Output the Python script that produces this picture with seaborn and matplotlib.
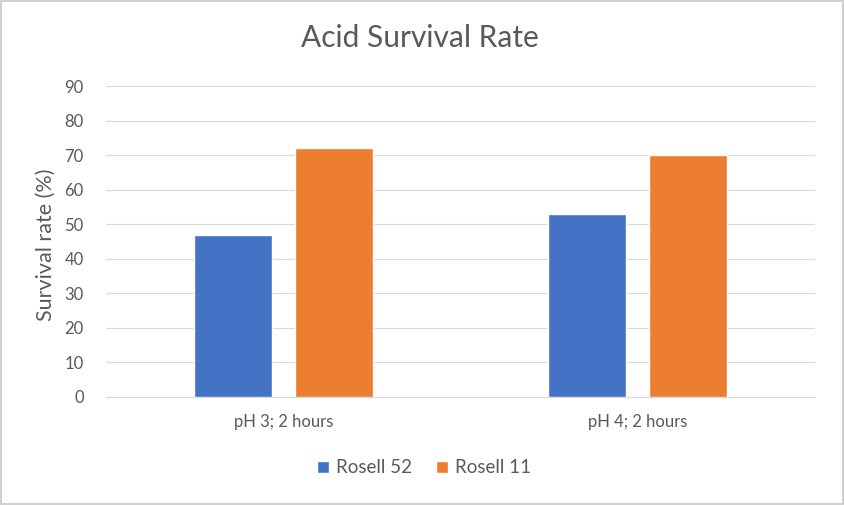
import pandas as pd
import matplotlib.pyplot as plt
import seaborn as sns

conditions = ["pH 3; 2 hours", "pH 4; 2 hours"]
strains = ["Rosell 52", "Rosell 11"]
rosell_52 = [47, 53]
rosell_11 = [72, 70]

df = pd.DataFrame({
    "condition": conditions * 2,
    "strain": [strains[0]] * 2 + [strains[1]] * 2,
    "rate": rosell_52 + rosell_11,
})

sns.set_style("white")
plt.rcParams['font.family'] = ['Lato', 'DejaVu Sans']
text_col = '#595959'

fig = plt.figure(figsize=(8.44, 5.05), dpi=100, edgecolor='#d0d0d0', linewidth=1.5)
ax = fig.add_axes([0.1256, 0.2139, 0.840, 0.6158])

sns.barplot(data=df, x="condition", y="rate", hue="strain",
            palette=['#4472C4', '#ED7D31'], width=0.57, gap=0.228,
            saturation=1, ax=ax, zorder=3)

ax.set_ylim(0, 90)
ax.set_xlim(-0.5, 1.5)
ax.set_yticks(range(0, 91, 10))
ax.yaxis.grid(True, color='#d9d9d9', linewidth=0.8, zorder=0)
ax.set_axisbelow(True)
for s in ['top', 'right', 'left']:
    ax.spines[s].set_visible(False)
ax.spines['bottom'].set_color('#d9d9d9')
ax.tick_params(axis='both', length=0, labelsize=12, labelcolor=text_col)
ax.tick_params(axis='x', pad=12)
ax.tick_params(axis='y', pad=16)
ax.set_xlabel('')
ax.set_ylabel('Survival rate (%)', fontsize=15.5, color=text_col, va='center')
ax.yaxis.set_label_coords(-0.085, 0.489)
fig.text(420 / 844, 1 - 38 / 505, 'Acid Survival Rate', fontsize=21.5,
         color=text_col, ha='center', va='center')

ax.legend(loc='center', bbox_to_anchor=(0.449, -0.228), ncol=2, frameon=False,
          fontsize=13.5, labelcolor=text_col, handlelength=0.6, handleheight=0.6,
          columnspacing=1.3, handletextpad=0.4)

fig.savefig('out.png', dpi=100)
